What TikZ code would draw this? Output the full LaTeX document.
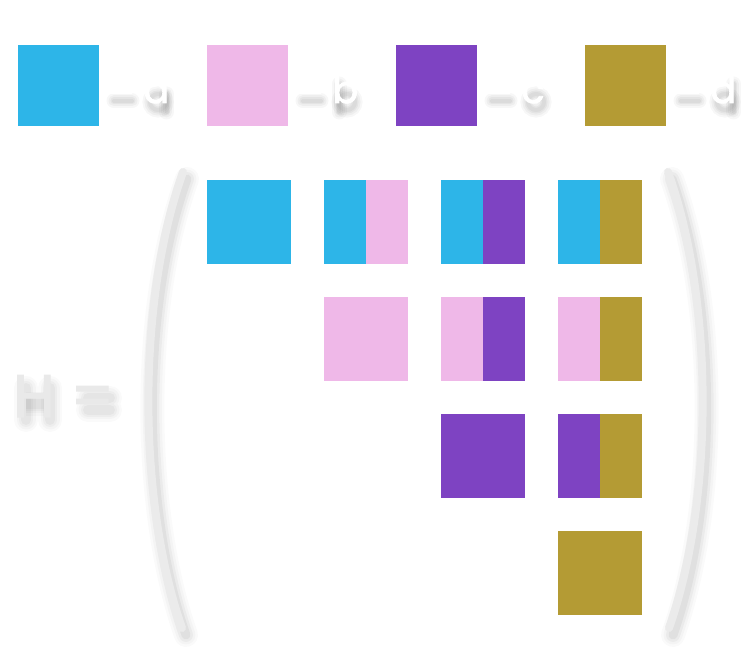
\documentclass[tikz,border=0pt]{standalone}
\usepackage{fontspec}
\setmainfont{Poppins}
\newfontfamily\popfont{Poppins}[FakeBold=2]
\newfontfamily\dvfont{DejaVu Sans}[FakeBold=2.5]
\definecolor{ca}{RGB}{45,181,232}
\definecolor{cb}{RGB}{239,184,232}
\definecolor{cc}{RGB}{126,67,194}
\definecolor{cd}{RGB}{180,155,52}
\definecolor{paren}{RGB}{235,235,235}
\definecolor{htext}{RGB}{233,233,233}
\newcommand\legfont{\fontsize{38}{38}\selectfont\popfont}
\newcommand\hfont{\fontsize{60}{60}\selectfont\popfont}
\newcommand\mns{{\fontsize{35}{35}\selectfont\dvfont −}\kern8pt}
\newcommand\lparen{(183,488) .. controls (137,360) and (137,160) .. (182,32)}
\newcommand\rparen{(668,488) .. controls (714,360) and (714,160) .. (669,32)}
% blurred glyph shadows (tikz coords = 660 - image y)
\newcommand\legshadow[2]{% #1 x offset, #2 stem: 0 none, 1 left (b), 2 right tall (d), 3 right short (a)
  \foreach \w/\o in {15/0.03,11/0.035,7/0.04,4/0.04}{
    \path[draw=black, line cap=round, line width=\w pt, opacity=\o]
      ({112+#1},569) -- ({130+#1},569);
    \path[draw=black, line width=\w pt, opacity=\o]
      ({156+#1},568) circle (8);
    \ifnum#2=1
      \path[draw=black, line cap=round, line width=\w pt, opacity=\o]
        ({148+#1},586) -- ({148+#1},558);
    \fi
    \ifnum#2=2
      \path[draw=black, line cap=round, line width=\w pt, opacity=\o]
        ({164.5+#1},586) -- ({164.5+#1},558);
    \fi
    \ifnum#2=3
      \path[draw=black, line cap=round, line width=\w pt, opacity=\o]
        ({164.5+#1},576) -- ({164.5+#1},558);
    \fi
  }}
\begin{document}
\begin{tikzpicture}[x=1pt,y=1pt,
  legsq/.style={inner sep=0pt, minimum width=81pt, minimum height=81pt, anchor=north west},
  cell/.style={inner sep=0pt, minimum width=84pt, minimum height=84pt, anchor=north west},
  halfcell/.style={inner sep=0pt, minimum width=42pt, minimum height=84pt, anchor=north west},
  parenline/.style={draw=paren, line width=8pt, line cap=round},
  parenshadow/.style={draw=black, line cap=round},
  label/.style={anchor=base west, inner sep=0pt}]
\useasboundingbox (0,0) rectangle (750,660);
\fill[white] (0,0) rectangle (750,660);
% legend squares
\node[legsq, fill=ca] (la) at (18,615) {};
\node[legsq, fill=cb] (lb) at (207,615) {};
\node[legsq, fill=cc] (lc) at (396,615) {};
\node[legsq, fill=cd] (ld) at (585,615) {};
% legend text shadows
\begin{scope}[shift={(2,-10)}]
  \legshadow{0}{3}
  \legshadow{189}{1}
  \legshadow{378}{0}
  \legshadow{567}{2}
\end{scope}
% legend texts
\node[label, font=\legfont, text=white] (ta) at (106,557) {\mns a};
\node[label, font=\legfont, text=white] (tb) at (295,557) {\mns b};
\node[label, font=\legfont, text=white] (tc) at (484,557) {\mns c};
\node[label, font=\legfont, text=white] (td) at (673,557) {\mns d};
% H = shadow
\begin{scope}[shift={(3,-8)}]
  \foreach \w/\o in {24/0.018,19/0.022,14/0.026,10/0.03}{
    \path[draw=black, line cap=round, line width=\w pt, opacity=\o]
      (23,280) -- (23,248) (47,280) -- (47,248);
    \path[draw=black, line width=\w pt, opacity=\o] (23,264) -- (47,264);
    \path[draw=black, line cap=round, line width=\w pt, opacity=\o]
      (85,270) -- (107,270) (85,258) -- (107,258);
  }
\end{scope}
\node[label, font=\hfont, text=htext] (th) at (13,243) {H =};
% parentheses with shadows
\begin{scope}[shift={(4,-7)}]
  \foreach \w/\o in {24/0.02,19/0.025,14/0.035,9/0.045}{
    \path[parenshadow, line width=\w pt, opacity=\o] \lparen;
    \path[parenshadow, line width=\w pt, opacity=\o] \rparen;
  }
\end{scope}
\path[parenline] \lparen;
\path[parenline] \rparen;
% matrix row 1
\node[cell, fill=ca] (m11) at (207,480) {};
\node[halfcell, fill=ca] (m12l) at (324,480) {};
\node[halfcell, fill=cb] (m12r) at (366,480) {};
\node[halfcell, fill=ca] (m13l) at (441,480) {};
\node[halfcell, fill=cc] (m13r) at (483,480) {};
\node[halfcell, fill=ca] (m14l) at (558,480) {};
\node[halfcell, fill=cd] (m14r) at (600,480) {};
% row 2
\node[cell, fill=cb] (m22) at (324,363) {};
\node[halfcell, fill=cb] (m23l) at (441,363) {};
\node[halfcell, fill=cc] (m23r) at (483,363) {};
\node[halfcell, fill=cb] (m24l) at (558,363) {};
\node[halfcell, fill=cd] (m24r) at (600,363) {};
% row 3
\node[cell, fill=cc] (m33) at (441,246) {};
\node[halfcell, fill=cc] (m34l) at (558,246) {};
\node[halfcell, fill=cd] (m34r) at (600,246) {};
% row 4
\node[cell, fill=cd] (m44) at (558,129) {};
\end{tikzpicture}
\end{document}
